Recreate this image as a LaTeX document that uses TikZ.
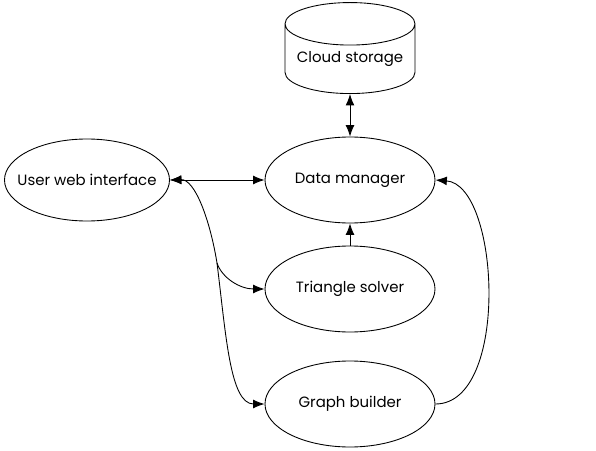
\documentclass[tikz,border=0pt]{standalone}
\usepackage{fontspec}
\setmainfont{Poppins}
\usepackage{tikz}
\usetikzlibrary{shapes.geometric,arrows.meta}

\tikzset{
  module/.style={draw, ellipse, inner ysep=0pt, inner xsep=-1cm, line width=0.5pt, minimum width=3.4cm, minimum height=1.72cm, font=\fontsize{8.5}{10}\selectfont},
  store/.style={draw, cylinder, shape border rotate=90, aspect=0.4, inner sep=0pt, line width=0.5pt, minimum width=2.6cm, minimum height=1.82cm, font=\fontsize{8.5}{10}\selectfont},
  link/.style={line width=0.5pt},
  >={Latex[length=6.5pt,width=5pt]}
}

\begin{document}
\begin{tikzpicture}

\useasboundingbox (0, 0) rectangle (11.92, 9);

% Modules
\node[module, minimum width=3.3cm, minimum height=1.64cm] (user) at (1.74, 5.4) {User web interface};
\node[module] (data) at (7, 5.4) {Data manager};
\node[module] (tri) at (7, 3.22) {Triangle solver};
\node[module] (graph) at (7, 0.92) {Graph builder};

% Storage
\node[store, anchor=south] (cloud) at (7, 7.12) {Cloud storage};

% Split point below the user interface
\coordinate (split) at (4.34, 3.74);

% Connectors
\draw[link, <->] (cloud.south) -- (data.north);
\draw[link, <->] (user.east) -- (data.west);
\draw[link, ->] (tri.north) -- (data.south);
\draw[link, <-] (user.east) .. controls (3.9, 5.42) and (4.2, 4.6) .. (split);
\draw[link, ->] (split) .. controls (4.44, 3.44) and (4.8, 3.22) .. (tri.west);
\draw[link, ->] (split) .. controls (4.52, 2.3) and (4.6, 0.92) .. (graph.west);
\draw[link, ->] (graph.east) .. controls (10.2, 0.92) and (10.0, 5.3) .. (data.east);

\end{tikzpicture}
\end{document}
